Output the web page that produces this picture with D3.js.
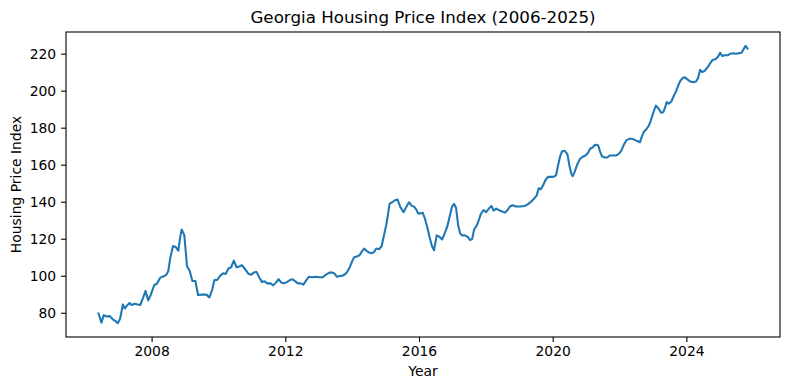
<!DOCTYPE html>
<html>
<head>
<meta charset="utf-8">
<script src="https://cdn.jsdelivr.net/npm/d3@7"></script>
<style>
  html, body { margin: 0; padding: 0; background: #fff; }
  svg { display: block; font-family: "DejaVu Sans", sans-serif; }
</style>
</head>
<body>
<svg id="chart" width="790" height="390"></svg>
<script>
// Time as fractional years, index values
const years = [
  2006.41,2006.50,2006.57,2006.65,2006.75,2006.83,2006.92,2006.99,2007.06,2007.14,
  2007.20,2007.26,2007.34,2007.40,2007.50,2007.58,2007.66,2007.74,2007.82,2007.90,
  2007.98,2008.08,2008.16,2008.26,2008.36,2008.44,2008.50,2008.56,2008.64,2008.72,
  2008.80,2008.86,2008.90,2008.98,2009.06,2009.14,2009.22,2009.31,2009.39,2009.51,
  2009.64,2009.73,2009.81,2009.88,2009.96,2010.06,2010.14,2010.22,2010.30,2010.38,
  2010.46,2010.54,2010.62,2010.70,2010.80,2010.90,2010.98,2011.06,2011.14,2011.22,
  2011.30,2011.38,2011.46,2011.56,2011.64,2011.72,2011.80,2011.88,2011.96,2012.06,
  2012.14,2012.22,2012.30,2012.38,2012.46,2012.54,2012.62,2012.71,2012.80,2012.90,
  2013.02,2013.12,2013.22,2013.32,2013.42,2013.48,2013.54,2013.64,2013.74,2013.84,
  2013.92,2014.00,2014.06,2014.14,2014.22,2014.30,2014.36,2014.42,2014.50,2014.60,
  2014.66,2014.72,2014.80,2014.88,2014.94,2015.02,2015.06,2015.12,2015.20,2015.28,
  2015.36,2015.44,2015.54,2015.62,2015.70,2015.78,2015.86,2015.93,2015.97,2016.05,
  2016.11,2016.17,2016.25,2016.33,2016.39,2016.45,2016.49,2016.53,2016.61,2016.69,
  2016.77,2016.85,2016.93,2016.99,2017.05,2017.11,2017.17,2017.23,2017.29,2017.37,
  2017.45,2017.53,2017.59,2017.65,2017.73,2017.79,2017.85,2017.93,2018.01,2018.09,
  2018.17,2018.23,2018.31,2018.39,2018.47,2018.57,2018.65,2018.72,2018.80,2018.90,
  2019.02,2019.16,2019.24,2019.32,2019.42,2019.52,2019.58,2019.64,2019.72,2019.78,
  2019.86,2019.94,2020.02,2020.10,2020.16,2020.22,2020.28,2020.36,2020.44,2020.50,
  2020.56,2020.60,2020.66,2020.74,2020.82,2020.90,2020.98,2021.06,2021.12,2021.20,
  2021.27,2021.36,2021.41,2021.47,2021.56,2021.63,2021.71,2021.79,2021.89,2021.97,
  2022.05,2022.13,2022.21,2022.31,2022.41,2022.51,2022.61,2022.67,2022.73,2022.81,
  2022.87,2022.93,2022.99,2023.05,2023.09,2023.17,2023.25,2023.31,2023.37,2023.41,
  2023.47,2023.55,2023.61,2023.69,2023.75,2023.81,2023.89,2023.95,2024.03,2024.11,
  2024.21,2024.29,2024.35,2024.41,2024.47,2024.53,2024.59,2024.65,2024.71,2024.79,
  2024.87,2024.95,2025.01,2025.07,2025.15,2025.23,2025.31,2025.41,2025.49,2025.57,
  2025.65,2025.71,2025.77,2025.83
];
const hpi = [
  79.6,74.7,78.7,78.0,78.2,76.6,75.5,74.4,76.9,84.5,
  82.3,83.8,85.3,84.2,84.9,84.5,84.2,87.8,91.8,86.7,
  89.9,95.0,95.7,99.0,99.7,100.5,102.6,109.8,116.0,115.6,
  113.5,121.4,125.0,121.8,105.1,102.6,97.2,97.2,89.6,89.8,
  89.8,88.3,92.3,97.7,97.7,100.2,101.3,101.0,103.9,104.6,
  108.2,104.6,105.0,105.7,103.5,101.0,100.6,101.7,102.1,99.2,
  96.7,97.0,95.9,95.9,94.8,96.3,98.1,96.3,95.9,96.7,
  97.7,98.1,97.0,95.9,95.9,95.2,97.4,99.5,99.2,99.5,
  99.2,99.2,100.6,101.7,101.7,101.0,99.5,99.9,100.2,101.7,
  104.3,107.8,110.0,110.4,111.1,113.3,114.7,113.6,112.6,112.2,
  112.9,114.7,114.3,115.8,120.8,127.4,131.7,139.0,139.7,140.8,
  141.2,137.2,134.3,137.2,139.7,137.9,137.2,135.5,133.7,133.7,
  134.1,131.2,126.1,119.9,115.9,113.8,117.8,121.8,121.1,119.6,
  122.9,126.8,133.0,137.4,138.8,136.6,127.6,122.9,121.8,121.8,
  121.1,119.2,119.9,125.0,127.2,130.1,133.3,135.5,134.4,136.3,
  137.7,135.2,136.3,135.5,134.8,134.1,135.5,137.4,138.1,137.4,
  137.4,137.7,138.4,139.5,141.2,143.3,147.3,146.6,149.1,151.6,
  153.4,153.4,153.4,154.2,159.6,164.3,167.2,167.5,165.7,159.6,
  154.9,153.8,156.3,160.3,163.2,164.3,165.0,166.5,168.6,169.4,
  170.8,170.5,167.5,164.6,163.9,163.9,165.0,165.0,165.0,165.7,
  167.5,170.8,173.3,174.1,173.8,172.9,172.1,175.3,177.8,179.3,
  180.8,183.6,186.9,190.2,191.9,190.2,188.0,188.4,191.2,193.8,
  193.0,194.1,196.7,199.6,202.5,205.0,206.9,207.2,206.1,205.0,
  204.6,205.0,206.9,211.2,210.1,210.5,211.6,213.0,214.8,216.7,
  217.0,218.4,220.5,218.7,219.1,219.1,219.9,220.2,219.9,220.2,
  220.5,222.3,224.2,222.7
];
const xTicks = [2008, 2012, 2016, 2020, 2024];
const yTicks = [80, 100, 120, 140, 160, 180, 200, 220];
const titleText = "Georgia Housing Price Index (2006-2025)";
const xLabel = "Year";
const yLabel = "Housing Price Index";

const data = years.map((t, i) => ({ t, v: hpi[i] }));

const W = 790, H = 390;
const m = { left: 66, right: 780, top: 32, bottom: 337 };

function padded(ext) {
  const p = (ext[1] - ext[0]) * 0.05;
  return [ext[0] - p, ext[1] + p];
}

const x = d3.scaleLinear().domain(padded(d3.extent(years))).range([m.left, m.right]);
const y = d3.scaleLinear().domain(padded(d3.extent(hpi))).range([m.bottom, m.top]);

const svg = d3.select("#chart");
const fs = 13.9;

// line
svg.append("path")
  .datum(data)
  .attr("fill", "none")
  .attr("stroke", "#1f77b4")
  .attr("stroke-width", 2.08)
  .attr("stroke-linejoin", "round")
  .attr("stroke-linecap", "square")
  .attr("d", d3.line().x(d => x(d.t)).y(d => y(d.v)));

// x axis
const xAxis = svg.append("g")
  .attr("transform", `translate(0,${m.bottom})`)
  .call(d3.axisBottom(x).tickValues(xTicks).tickFormat(d3.format("d"))
        .tickSize(4.9).tickPadding(4.4));
xAxis.select(".domain").remove();
xAxis.selectAll("line").attr("stroke", "#000").attr("stroke-width", 1.1);
xAxis.selectAll("text").attr("fill", "#000").style("font-size", fs + "px")
  .style("font-family", '"DejaVu Sans", sans-serif');

// y axis
const yAxis = svg.append("g")
  .attr("transform", `translate(${m.left},0)`)
  .call(d3.axisLeft(y).tickValues(yTicks).tickFormat(d3.format("d"))
        .tickSize(4.9).tickPadding(4.9));
yAxis.select(".domain").remove();
yAxis.selectAll("line").attr("stroke", "#000").attr("stroke-width", 1.1);
yAxis.selectAll("text").attr("fill", "#000").style("font-size", fs + "px")
  .style("font-family", '"DejaVu Sans", sans-serif');

// frame
svg.append("rect")
  .attr("x", m.left).attr("y", m.top)
  .attr("width", m.right - m.left).attr("height", m.bottom - m.top)
  .attr("fill", "none").attr("stroke", "#000").attr("stroke-width", 1.1);

// title
svg.append("text")
  .attr("x", (m.left + m.right) / 2).attr("y", 23)
  .attr("text-anchor", "middle")
  .style("font-size", "16.7px")
  .attr("fill", "#000")
  .text(titleText);

// x label
svg.append("text")
  .attr("x", (m.left + m.right) / 2).attr("y", 376)
  .attr("text-anchor", "middle")
  .style("font-size", fs + "px")
  .attr("fill", "#000")
  .text(xLabel);

// y label
svg.append("text")
  .attr("transform", `translate(21,${(m.top + m.bottom) / 2}) rotate(-90)`)
  .attr("text-anchor", "middle")
  .style("font-size", fs + "px")
  .attr("fill", "#000")
  .text(yLabel);
</script>
</body>
</html>
